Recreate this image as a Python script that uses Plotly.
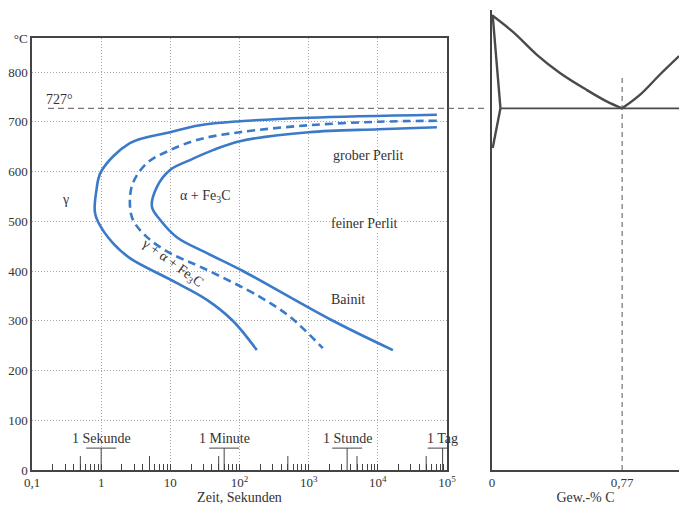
import math
import plotly.graph_objects as go

# ---------------- data ----------------
# TTT diagram: time in seconds, temperature in °C
start_t = [71300, 1000, 101, 26.8, 9.9, 2.6, 1.0, 0.85, 0.81, 0.90, 1.48, 2.6, 10.2, 33.8, 80, 178]
start_T = [714, 708, 701, 693, 679, 657, 600, 560, 519, 499, 456, 426, 382, 342, 300, 241]

half_t = [71300, 10300, 1000, 101, 26.8, 9.9, 4.6, 2.88, 2.6, 2.88, 4.6, 9.9, 29.6, 197, 535, 1600]
half_T = [702, 700, 693, 679, 665, 643, 617, 577, 537, 503, 468, 436, 406, 348, 308, 245]

finish_t = [71300, 10300, 1000, 101, 41.3, 19.2, 9.9, 6.4, 5.42, 7.1, 12.4, 33.8, 112, 2240, 16500]
finish_T = [689, 685, 679, 661, 643, 623, 603, 569, 529, 503, 468, 436, 400, 300, 241]

eutectoid_T = 727
y_ticks = [0, 100, 200, 300, 400, 500, 600, 700, 800]
x_ticks = [0.1, 1, 10, 100, 1000, 10000, 100000]
x_ticktext = ["0,1", "1", "10", "10<sup>2</sup>", "10<sup>3</sup>", "10<sup>4</sup>", "10<sup>5</sup>"]

time_marks = [1, 60, 3600, 86400]
time_labels = ["1 Sekunde", "1 Minute", "1 Stunde", "1 Tag"]

# Fe-C phase diagram fragment (wt.% C, °C)
a3_c = [0.0, 0.126, 0.264, 0.402, 0.56, 0.678, 0.77]
a3_T = [914, 880, 835, 798, 764, 741, 727]
alpha_c = [0.004, 0.05]
alpha_T = [914, 727]
solvus_c = [0.05, 0.004]
solvus_T = [727, 647]
acm_c = [0.77, 0.875, 0.994, 1.107]
acm_T = [727, 754, 795, 832]
eut_c = [0.05, 1.107]
c_ticks = [0, 0.77]
c_ticktext = ["0", "0,77"]

# ---------------- layout geometry ----------------
W, H = 679, 511
ML, MR, MT, MB = 32, 0, 10, 41
PW, PH = W - ML - MR, H - MT - MB
PXDEG = 0.4975            # pixels per °C
LEFT_TOP = 38             # top of left box (px)
LEFT_RIGHT = 447          # right of left box (px)
RIGHT_LEFT = 492          # left axis of right panel (px)
PX_PER_C = 169.0          # pixels per wt.% C
Y_TOP = (H - MB - LEFT_TOP) / PXDEG

def fx(px):
    return (px - ML) / PW

BLUE = "#3b7ac8"
AX = "#444444"
GRID = "#a8a8a8"
FONT = "Liberation Serif"
TXT = "#333333"

fig = go.Figure()
for t, T, dash in [(start_t, start_T, "solid"), (half_t, half_T, "8px,5px"), (finish_t, finish_T, "solid")]:
    fig.add_trace(go.Scatter(x=t, y=T, mode="lines",
                             line=dict(color=BLUE, width=2.6, dash=dash, shape="spline", smoothing=1.0),
                             showlegend=False, hoverinfo="skip", xaxis="x", yaxis="y"))

PH_COL = "#4a4a4a"
for c, T in [(a3_c, a3_T), (alpha_c, alpha_T), (solvus_c, solvus_T), (acm_c, acm_T)]:
    fig.add_trace(go.Scatter(x=c, y=T, mode="lines", line=dict(color=PH_COL, width=2.4, shape="spline", smoothing=1.0),
                             showlegend=False, hoverinfo="skip", xaxis="x2", yaxis="y2"))
fig.add_trace(go.Scatter(x=eut_c, y=[eutectoid_T, eutectoid_T], mode="lines", line=dict(color=PH_COL, width=1.8),
                         showlegend=False, hoverinfo="skip", xaxis="x2", yaxis="y2"))
fig.add_trace(go.Scatter(x=[c_ticks[1], c_ticks[1]], y=[0, 790], mode="lines",
                         line=dict(color="#555", width=1, dash="5px,4px"),
                         showlegend=False, hoverinfo="skip", xaxis="x2", yaxis="y2"))

shapes = []
# 727° dashed reference line across both panels
shapes.append(dict(type="line", xref="paper", yref="y", x0=fx(48), x1=fx(487), y0=eutectoid_T, y1=eutectoid_T,
                   line=dict(color="#555", width=1, dash="6px,4px")))
# taller minor ticks at 5·10^n
for n in range(-1, 5):
    shapes.append(dict(type="line", xref="x", yref="y", x0=5 * 10 ** n, x1=5 * 10 ** n, y0=0, y1=28,
                       line=dict(color=AX, width=1)))
# time brackets
half_dec = 15 / 69.2
annotations = []
for tm, lab in zip(time_marks, time_labels):
    lg = math.log10(tm)
    shapes.append(dict(type="line", xref="x", yref="y", x0=tm, x1=tm, y0=0, y1=44, line=dict(color=AX, width=1)))
    shapes.append(dict(type="line", xref="x", yref="y", x0=10 ** (lg - half_dec), x1=10 ** (lg + half_dec), y0=44, y1=44,
                       line=dict(color=AX, width=1)))
    annotations.append(dict(x=lg, y=64, xref="x", yref="y", text=lab, showarrow=False,
                            font=dict(size=14, color=TXT, family=FONT)))

txt = dict(showarrow=False, font=dict(size=14, color=TXT, family=FONT))
annotations += [
    dict(x=math.log10(0.3), y=543, xref="x", yref="y", text="γ", **txt),
    dict(x=math.log10(31.6), y=550, xref="x", yref="y", text="α + Fe<sub>3</sub>C", **txt),
    dict(x=1.03, y=416, xref="x", yref="y", text="γ + α + Fe<sub>3</sub>C", textangle=36, **txt),
    dict(x=math.log10(7180), y=633, xref="x", yref="y", text="grober Perlit", **txt),
    dict(x=math.log10(6500), y=496, xref="x", yref="y", text="feiner Perlit", bgcolor="white", borderpad=0, **txt),
    dict(x=math.log10(3700), y=342, xref="x", yref="y", text="Bainit", **txt),
    dict(x=math.log10(0.25), y=745, xref="x", yref="y", text="727°", **txt),
]

fig.update_layout(
    width=W, height=H, margin=dict(l=ML, r=MR, t=MT, b=MB, pad=0, autoexpand=False),
    paper_bgcolor="white", plot_bgcolor="white", showlegend=False,
    font=dict(family=FONT, size=13, color=TXT),
    xaxis=dict(type="log", range=[-1, 5], domain=[0, fx(LEFT_RIGHT)], anchor="y", automargin=False,
               tickvals=x_ticks, ticktext=x_ticktext, ticks="inside", ticklen=6, tickcolor=AX,
               showline=True, linecolor=AX, linewidth=1.5, mirror=True,
               showgrid=True, gridcolor=GRID, griddash="1px,2px", gridwidth=1, zeroline=False,
               minor=dict(tickvals=[k * 10 ** n for n in range(-1, 5) for k in range(2, 10)], ticks="inside",
                          ticklen=6, tickcolor=AX, showgrid=False),
               title=dict(text="Zeit, Sekunden", font=dict(size=14), standoff=2)),
    yaxis=dict(range=[0, Y_TOP], domain=[0, (H - MB - LEFT_TOP) / PH], anchor="x", automargin=False,
               tickvals=y_ticks + [Y_TOP], ticktext=[str(v) for v in y_ticks] + ["°C"], ticks="",
               showline=True, linecolor=AX, linewidth=1.5, mirror=True,
               showgrid=True, gridcolor=GRID, griddash="1px,2px", gridwidth=1, zeroline=False),
    xaxis2=dict(range=[0, (W - RIGHT_LEFT) / PX_PER_C], domain=[fx(RIGHT_LEFT), 1], anchor="y2", automargin=False,
                tickvals=c_ticks, ticktext=c_ticktext, ticks="", showline=True, linecolor=AX, linewidth=1.5,
                showgrid=False, zeroline=False, title=dict(text="Gew.-% C", font=dict(size=14), standoff=2)),
    yaxis2=dict(range=[0, PH / PXDEG], domain=[0, 1], anchor="x2", showticklabels=False, ticks="", automargin=False,
                showline=True, linecolor=AX, linewidth=1.5, showgrid=False, zeroline=False),
    shapes=shapes, annotations=annotations,
)

fig.write_html("out.html")
